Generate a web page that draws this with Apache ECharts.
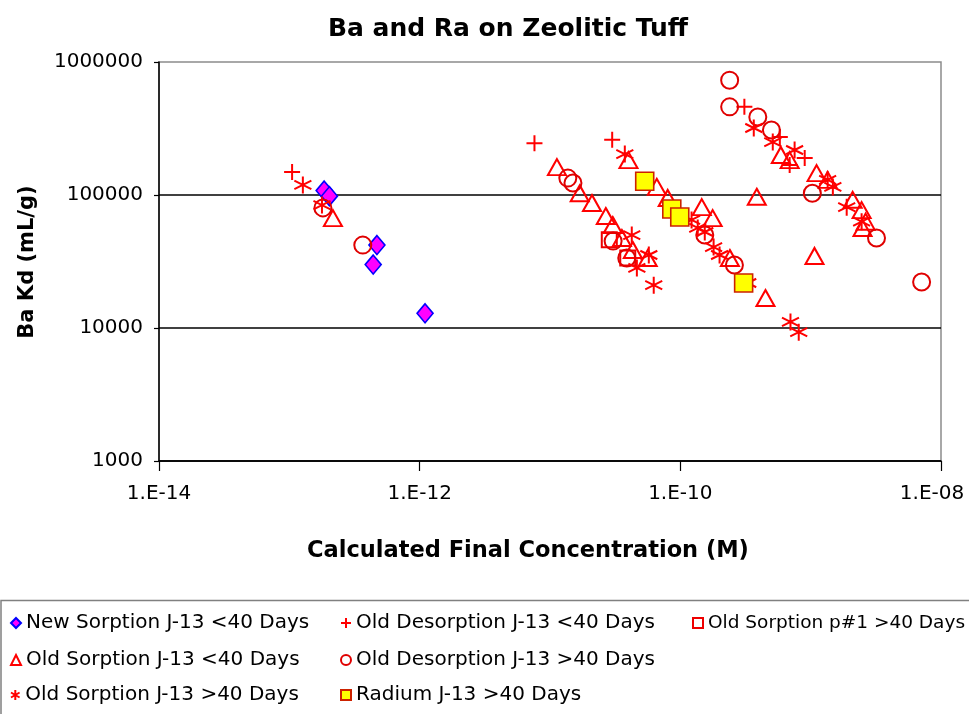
<!DOCTYPE html>
<html>
<head>
<meta charset="utf-8">
<script src="https://cdn.jsdelivr.net/npm/echarts@6/dist/echarts.min.js"></script>
<style>
html,body{margin:0;padding:0;background:#fff;overflow:hidden;}
#chart{width:969px;height:714px;}
</style>
</head>
<body>
<div id="chart"></div>
<script>
// ---- data (x = calculated final concentration [M], y = Ba Kd [mL/g]) ----
const seriesNames = [
  'New Sorption J-13 <40 Days',
  'Old Desorption J-13 <40 Days',
  'Old Sorption p#1 >40 Days',
  'Old Sorption J-13 <40 Days',
  'Old Desorption J-13 >40 Days',
  'Old Sorption J-13 >40 Days',
  'Radium J-13 >40 Days'
];
const newSorptionLt40 = [[1.85e-13,1.08e5],[2.03e-13,9.8e4],[4.7e-13,4.2e4],[4.4e-13,3.0e4],[1.10e-12,1.29e4]];
const oldDesorptionLt40 = [[1.05e-13,1.49e5],[7.6e-12,2.45e5],[3.0e-11,2.6e5],[3.1e-10,4.6e5],[5.8e-10,2.73e5],[6.9e-10,1.68e5],[9.0e-10,1.9e5]];
const oldSorptionP1Gt40 = [[2.85e-11,4.6e4],[3.95e-11,3.36e4]];
const oldSorptionLt40 = [
  [2.16e-13,6.7e4],
  [1.13e-11,1.62e5],[1.69e-11,1.03e5],[2.1e-11,8.7e4],[2.68e-11,6.95e4],[3.03e-11,5.95e4],[3.56e-11,4.75e4],[4.32e-11,3.86e4],[5.62e-11,3.36e4],
  [4.0e-11,1.83e5],[6.6e-11,1.15e5],[8.0e-11,9.5e4],[1.46e-10,8.1e4],[1.77e-10,6.7e4],[2.4e-10,3.36e4],[4.5e-10,1.68e4],[3.86e-10,9.7e4],[1.07e-9,3.48e4],
  [5.9e-10,2.0e5],[6.9e-10,1.83e5],[1.11e-9,1.46e5],[1.35e-9,1.3e5],[2.1e-9,9.2e4],[2.46e-9,7.7e4],[2.64e-9,6.3e4],[2.5e-9,5.65e4]
];
const oldDesorptionGt40 = [
  [1.81e-13,8.0e4],[3.66e-13,4.2e4],[1.37e-11,1.34e5],[1.5e-11,1.23e5],[3.05e-11,4.5e4],[3.88e-11,3.36e4],
  [1.54e-10,5.0e4],[2.6e-10,2.98e4],[2.39e-10,7.3e5],[2.39e-10,4.6e5],[3.93e-10,3.86e5],[5.0e-10,3.08e5],
  [1.03e-9,1.03e5],[3.2e-9,4.75e4],[7.1e-9,2.22e4]
];
const oldSorptionGt40 = [
  [1.27e-13,1.19e5],[1.78e-13,8.4e4],
  [4.24e-11,5.0e4],[4.64e-11,2.83e4],[5.73e-11,3.54e4],[6.25e-11,2.1e4],
  [3.75e-11,2.03e5],[1.22e-10,6.5e4],[1.36e-10,5.65e4],[1.54e-10,5.27e4],[1.8e-10,4.06e4],[2.0e-10,3.54e4],[3.29e-10,2.18e4],[7.0e-10,1.11e4],[8.1e-10,9.3e3],
  [3.66e-10,3.19e5],[5.12e-10,2.5e5],[7.53e-10,2.18e5],[1.35e-9,1.3e5],[1.48e-9,1.15e5],[1.89e-9,8.1e4],[2.46e-9,6.3e4]
];
const radiumGt40 = [[5.33e-11,1.27e5],[8.6e-11,7.85e4],[9.9e-11,6.84e4],[3.06e-10,2.18e4]];

const chartTitle = 'Ba and Ra on Zeolitic Tuff';
const xAxisTitle = 'Calculated Final Concentration (M)';
const yAxisTitle = 'Ba Kd (mL/g)';

// ---- styling ----
const FONT = 'DejaVu Sans';
const PLUS = 'path://M5,0L5,10M0,5L10,5';
const STAR = 'path://M5,0L5,10M0.7,2.5L9.3,7.5M9.3,2.5L0.7,7.5';
const CLEAR = 'rgba(0,0,0,0)';

function mk(name, data, symbol, size, itemStyle) {
  return { name, type: 'scatter', data, symbol, symbolSize: size, itemStyle: Object.assign({ opacity: 1 }, itemStyle), emphasis: { disabled: true } };
}

const series = [
  mk(seriesNames[0], newSorptionLt40, 'diamond', [16, 19], { color: '#FF00FF', borderColor: '#0000FF', borderWidth: 1.6 }),
  mk(seriesNames[1], oldDesorptionLt40, PLUS, 16, { color: CLEAR, borderColor: '#FF0000', borderWidth: 2 }),
  mk(seriesNames[2], oldSorptionP1Gt40, 'rect', 15, { color: CLEAR, borderColor: '#EE0000', borderWidth: 2 }),
  mk(seriesNames[3], oldSorptionLt40, 'triangle', [18, 16], { color: CLEAR, borderColor: '#FF0000', borderWidth: 2 }),
  mk(seriesNames[4], oldDesorptionGt40, 'circle', 17, { color: CLEAR, borderColor: '#E00000', borderWidth: 2 }),
  mk(seriesNames[5], oldSorptionGt40, STAR, 17, { color: CLEAR, borderColor: '#FF0000', borderWidth: 2 }),
  mk(seriesNames[6], radiumGt40, 'rect', 18, { color: '#FFFF00', borderColor: '#CC2200', borderWidth: 1.6 })
];

// legend slots: [series index, left, top]
const legendSlots = [[0, 10, 612], [1, 340, 612], [2, 692, 612], [3, 10, 649], [4, 340, 649], [5, 10, 684], [6, 340, 684]];
const legends = legendSlots.map(([i, left, top]) => ({
  left, top, data: [seriesNames[i]], orient: 'horizontal',
  itemWidth: 10, itemHeight: 10, selectedMode: false, padding: 0,
  textStyle: { fontFamily: FONT, fontSize: i === 2 ? 18.5 : 20, color: '#000', lineHeight: 22 }
}));

function expLabel(v) {
  const e = Math.round(Math.log10(v));
  const s = '1.E' + (e < 0 ? '-' : '+') + String(Math.abs(e)).padStart(2, '0');
  return e >= -8 ? '{r|' + s + '}' : s;
}

const chart = echarts.init(document.getElementById('chart'), null, { renderer: 'canvas' });
chart.setOption({
  animation: false,
  backgroundColor: '#fff',
  grid: { left: 159, right: 28, top: 62, bottom: 253, outerBoundsMode: 'none', containLabel: false,
          show: true, borderColor: '#8c8c8c', borderWidth: 1.5, backgroundColor: '#fff' },
  xAxis: {
    type: 'log', logBase: 100, min: 1e-14, max: 1e-8, splitNumber: 3,
    axisLine: { show: true, lineStyle: { color: '#000', width: 1.5 } },
    axisTick: { show: true, length: 10, lineStyle: { color: '#000', width: 1.2 } },
    axisLabel: {
      margin: 23, fontFamily: FONT, fontSize: 20, color: '#000', hideOverlap: false,
      formatter: expLabel,
      rich: { r: { fontFamily: FONT, fontSize: 20, color: '#000', padding: [0, 18, 0, 0] } }
    },
    splitLine: { show: false }
  },
  yAxis: {
    type: 'log', logBase: 10, min: 1000, max: 1000000,
    axisLine: { show: true, lineStyle: { color: '#000', width: 1.5 } },
    axisTick: { show: true, length: 5, lineStyle: { color: '#000', width: 1.2 } },
    axisLabel: { margin: 16, fontFamily: FONT, fontSize: 20, color: '#000', formatter: v => String(Math.round(v)) },
    splitLine: { show: true, showMinLine: false, showMaxLine: false, lineStyle: { color: '#000', width: 1.5 } }
  },
  legend: legends,
  graphic: [
    { type: 'rect', silent: true, z: -1, shape: { x: 1, y: 600.5, width: 990, height: 130 }, style: { fill: '#fff', stroke: '#808080', lineWidth: 1.5 } },
    { type: 'text', silent: true, x: 508, y: 29, style: { text: chartTitle, fill: '#000', font: 'bold 25px "DejaVu Sans"', textAlign: 'center', textVerticalAlign: 'middle' } },
    { type: 'text', silent: true, x: 528, y: 551, style: { text: xAxisTitle, fill: '#000', font: 'bold 22.5px "DejaVu Sans"', textAlign: 'center', textVerticalAlign: 'middle' } },
    { type: 'text', silent: true, x: 28, y: 262, rotation: Math.PI / 2, style: { text: yAxisTitle, fill: '#000', font: 'bold 21px "DejaVu Sans"', textAlign: 'center', textVerticalAlign: 'middle' } }
  ],
  series
});
</script>
</body>
</html>
